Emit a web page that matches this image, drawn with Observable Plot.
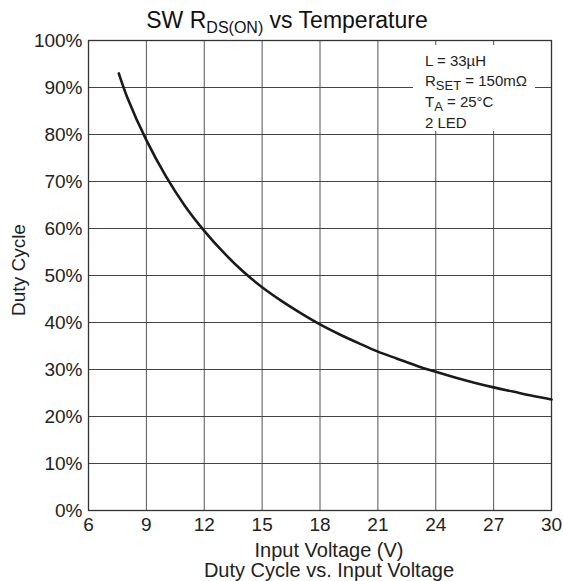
<!DOCTYPE html>
<html>
<head>
<meta charset="utf-8">
<script src="https://cdn.jsdelivr.net/npm/d3@7"></script>
<script src="https://cdn.jsdelivr.net/npm/@observablehq/plot@0.6"></script>
<style>
  body { margin: 0; background: #fff; }
  #chart svg { display: block; }
</style>
</head>
<body>
<div id="chart"></div>
<script>
// Input voltage (V) and duty cycle (%)
const voltage = [7.57, 8, 9, 10, 11, 12, 13, 14, 15, 16, 17, 18, 19, 20, 21, 22, 23, 24, 25, 26, 27, 28, 29, 30];
const duty = [93, 88, 78.8, 71.2, 64.8, 59.5, 54.9, 50.9, 47.5, 44.6, 42, 39.6, 37.5, 35.6, 33.8, 32.3, 30.8, 29.5, 28.3, 27.2, 26.2, 25.3, 24.4, 23.6];

const xTicks = [6, 9, 12, 15, 18, 21, 24, 27, 30];
const yTicks = [0, 10, 20, 30, 40, 50, 60, 70, 80, 90, 100];

const titleMain = "SW R";
const titleSub = "DS(ON)";
const titleRest = " vs Temperature";
const xLabel = "Input Voltage (V)";
const yLabel = "Duty Cycle";
const caption = "Duty Cycle vs. Input Voltage";
const notes = [
  ["L = 33µH", "", ""],
  ["R", "SET", " = 150mΩ"],
  ["T", "A", " = 25°C"],
  ["2 LED", "", ""]
];

const data = voltage.map((v, i) => ({v, d: duty[i]}));

const chart = Plot.plot({
  width: 563,
  height: 581,
  marginLeft: 88,
  marginRight: 12,
  marginTop: 40,
  marginBottom: 71,
  style: {
    fontFamily: "'Liberation Sans', Arial, Helvetica, sans-serif",
    fontSize: "19px",
    color: "#222",
    background: "#fff"
  },
  x: {domain: [6, 30], ticks: xTicks, tickSize: 0, tickPadding: 7, label: null},
  y: {domain: [0, 100], ticks: yTicks, tickSize: 0, tickPadding: 6, tickFormat: d => d + "%", label: null},
  marks: [
    Plot.gridX(xTicks, {stroke: "#555", strokeOpacity: 1, strokeWidth: 1}),
    Plot.gridY(yTicks, {stroke: "#444", strokeOpacity: 1, strokeWidth: 1}),
    Plot.frame({stroke: "#333", strokeWidth: 1.3}),
    Plot.line(data, {x: "v", y: "d", stroke: "#1a1a1a", strokeWidth: 2.6, curve: "catmull-rom"})
  ]
});

document.getElementById("chart").appendChild(chart);

const svg = d3.select(chart);
const font = "'Liberation Sans', Arial, Helvetica, sans-serif";

// Title
const t = svg.append("text")
  .attr("x", 287).attr("y", 28)
  .attr("text-anchor", "middle")
  .attr("font-family", font)
  .attr("font-size", 23)
  .attr("fill", "#111");
t.append("tspan").text(titleMain);
t.append("tspan").attr("font-size", 16).attr("dy", 5).text(titleSub);
t.append("tspan").attr("dy", -5).text(titleRest);

// Axis labels and caption
svg.append("text")
  .attr("x", 329).attr("y", 557)
  .attr("text-anchor", "middle")
  .attr("font-family", font).attr("font-size", 20).attr("fill", "#222")
  .text(xLabel);

svg.append("text")
  .attr("x", 329).attr("y", 577)
  .attr("text-anchor", "middle")
  .attr("font-family", font).attr("font-size", 20).attr("fill", "#222")
  .text(caption);

svg.append("text")
  .attr("transform", "translate(25,270) rotate(-90)")
  .attr("text-anchor", "middle")
  .attr("font-family", font).attr("font-size", 19).attr("fill", "#222")
  .text(yLabel);

// Annotation box
svg.append("rect")
  .attr("x", 413).attr("y", 45).attr("width", 122).attr("height", 86)
  .attr("fill", "#fff");

const baselines = [66, 86, 107, 128];
notes.forEach((n, i) => {
  const tx = svg.append("text")
    .attr("x", 425).attr("y", baselines[i])
    .attr("text-anchor", "start")
    .attr("font-family", font).attr("font-size", 15).attr("fill", "#222");
  tx.append("tspan").text(n[0]);
  if (n[1]) {
    tx.append("tspan").attr("font-size", 13).attr("dy", 4).text(n[1]);
    tx.append("tspan").attr("dy", -4).text(n[2]);
  }
});
</script>
</body>
</html>
